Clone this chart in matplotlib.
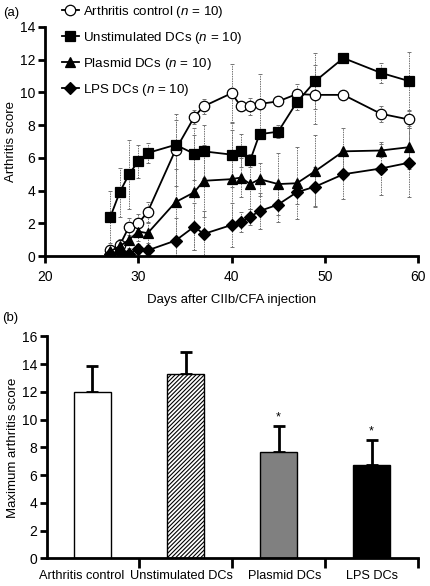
import numpy as np
import matplotlib
matplotlib.use("Agg")
import matplotlib.pyplot as plt
from matplotlib.transforms import ScaledTranslation

plt.rcParams["font.family"] = ["Liberation Sans", "DejaVu Sans"]
plt.rcParams["mathtext.fontset"] = "custom"
plt.rcParams["mathtext.it"] = "Liberation Sans:italic"
plt.rcParams["mathtext.rm"] = "Liberation Sans"
plt.rcParams["hatch.linewidth"] = 0.8

# --- Panel (a): time course ---
days = [27, 28, 29, 30, 31, 34, 36, 37, 40, 41, 42, 43, 45, 47, 49, 52, 56, 59]

control = [0.4, 0.65, 1.8, 2.0, 2.7, 6.5, 8.5, 9.15, 9.95, 9.15, 9.15, 9.3, 9.45, 9.9, 9.85, 9.85, 8.7, 8.35]
control_err = [0.3, 0.4, 0.5, 0.6, 0.6, 2.2, 0.4, 0.45, 1.8, 0.3, 0.5, 1.8, 0.2, 0.6, 1.8, 0.2, 0.5, 0.5]

unstim = [2.4, 3.9, 5.0, 5.8, 6.3, 6.8, 6.25, 6.4, 6.2, 6.45, 5.85, 7.45, 7.6, 9.4, 10.7, 12.1, 11.2, 10.7]
unstim_err = [1.6, 1.5, 2.1, 1.0, 0.6, 1.5, 1.6, 1.6, 2.0, 1.0, 0.4, 0.3, 0.4, 0.5, 1.7, 0.3, 0.6, 1.8]

plasmid = [0.3, 0.6, 1.0, 1.5, 1.4, 3.3, 3.9, 4.6, 4.7, 4.8, 4.4, 4.7, 4.4, 4.45, 5.2, 6.4, 6.45, 6.65]
plasmid_err = [0.3, 0.4, 0.5, 0.6, 0.6, 3.3, 3.5, 2.2, 3.0, 1.2, 1.5, 1.0, 1.9, 2.2, 2.2, 1.4, 0.4, 1.3]

lps = [0.15, 0.25, 0.15, 0.45, 0.35, 0.95, 1.8, 1.35, 1.9, 2.1, 2.4, 2.75, 3.15, 3.9, 4.25, 5.0, 5.35, 5.7]
lps_err = [0.2, 0.2, 0.2, 0.3, 0.3, 1.4, 1.45, 1.4, 1.35, 0.6, 0.5, 1.1, 1.05, 0.7, 1.2, 1.5, 1.6, 2.1]

series_names = ["Arthritis control ($n$ = 10)", "Unstimulated DCs ($n$ = 10)",
                "Plasmid DCs ($n$ = 10)", "LPS DCs ($n$ = 10)"]

# --- Panel (b): maximum score ---
groups = ["Arthritis control", "Unstimulated DCs", "Plasmid DCs", "LPS DCs"]
max_score = [12.0, 13.3, 7.7, 6.7]
max_err = [1.9, 1.6, 1.85, 1.85]
significant = [False, False, True, True]

fig = plt.figure(figsize=(4.3, 5.86), dpi=100)
ax1 = fig.add_axes([0.105, 0.563, 0.867, 0.391])
ax2 = fig.add_axes([0.109, 0.047, 0.8635, 0.379])


def style_axes(ax):
    for side in ["top", "right"]:
        ax.spines[side].set_visible(False)
    for side in ["left", "bottom"]:
        ax.spines[side].set_linewidth(2.0)
    ax.tick_params(width=2.0, length=5, labelsize=10, pad=2)


style_axes(ax1)
ys = [control, unstim, plasmid, lps]
errs = [control_err, unstim_err, plasmid_err, lps_err]
markers = ["o", "s", "^", "D"]
faces = ["white", "black", "black", "black"]
msizes = [7.5, 7, 7.5, 6]

handles = []
for y, e, m, fc, ms, name in zip(ys, errs, markers, faces, msizes, series_names):
    eb = ax1.errorbar(days, y, yerr=e, fmt="none", ecolor="0.45",
                      elinewidth=0.7, capsize=1.5, capthick=0.7, zorder=1)
    eb[2][0].set_linestyle((0, (1.5, 1)))
    h, = ax1.plot(days, y, color="black", lw=1.3, marker=m, ms=ms,
                  mfc=fc, mec="black", mew=0.9, zorder=3, label=name)
    handles.append(h)

ax1.set_xlim(20, 60)
ax1.set_ylim(0, 14)
ax1.set_xticks([20, 30, 40, 50, 60])
ax1.set_yticks(range(0, 15, 2))
ax1.tick_params(axis="x", pad=5)
ax1.set_xlabel("Days after CIIb/CFA injection", fontsize=9.5, labelpad=7)
ax1.set_ylabel("Arthritis score", fontsize=9.5, labelpad=2)
ax1.legend(handles=handles, loc="upper left", bbox_to_anchor=(0.03, 1.125),
           frameon=False, fontsize=9.6, handlelength=1.3, handletextpad=0.3,
           labelspacing=0.75, borderaxespad=0)
fig.text(0.008, 0.978, "(a)", fontsize=9.5, va="center")

# --- bars ---
style_axes(ax2)
x = np.arange(len(groups))
colors = ["white", "white", "#808080", "black"]
hatches = ["", "////////", "", ""]
bars = ax2.bar(x, max_score, width=0.4, color=colors, edgecolor="black",
               linewidth=1.0, hatch=hatches, zorder=2)
ax2.errorbar(x, max_score, yerr=[np.zeros(len(x)), max_err], fmt="none",
             ecolor="black", elinewidth=2.0, capsize=4, capthick=2.0, zorder=1)
for xi, v, e, s in zip(x, max_score, max_err, significant):
    if s:
        ax2.text(xi, v + e + 0.15, "*", ha="center", va="bottom", fontsize=9)

ax2.set_xlim(-0.49, 3.5)
ax2.set_ylim(0, 16)
ax2.set_yticks(range(0, 17, 2))
ax2.set_xticks(x + 0.5)
ax2.set_xticklabels([])
ax2.set_xticks(x, minor=True)
ax2.set_xticklabels(groups, minor=True, fontsize=9.2)
ax2.tick_params(axis="x", which="minor", length=0, pad=8)
ax2.tick_params(axis="x", which="major", length=7)
# labels are nudged sideways in the original so they don't collide
nudge_px = [-11, -4, 6, 0]
for lab, dx in zip(ax2.get_xticklabels(minor=True), nudge_px):
    lab.set_transform(lab.get_transform() + ScaledTranslation(dx / 100, 0, fig.dpi_scale_trans))
ax2.set_ylabel("Maximum arthritis score", fontsize=9.5, labelpad=2)
fig.text(0.005, 0.457, "(b)", fontsize=9.5, va="center")

fig.savefig("out.png", dpi=100)
